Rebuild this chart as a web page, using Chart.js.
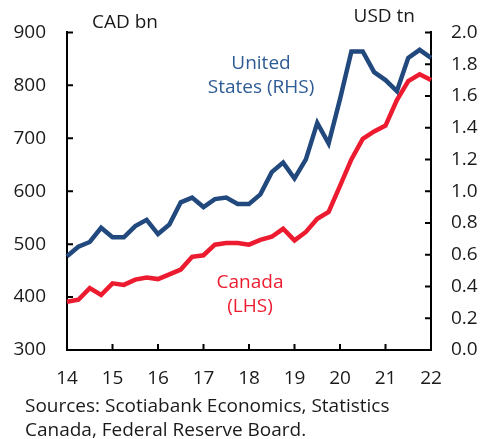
<!DOCTYPE html>
<html>
<head>
<meta charset="utf-8">
<script src="https://cdn.jsdelivr.net/npm/chart.js@4"></script>
<style>
  html, body { margin: 0; padding: 0; background: #fff; }
  #wrap { width: 480px; height: 439px; }
</style>
</head>
<body>
<div id="wrap"><canvas id="debtChart" width="480" height="439"></canvas></div>
<script>
const quarters = [
  '14Q1', '14Q2', '14Q3', '14Q4', '15Q1', '15Q2', '15Q3', '15Q4',
  '16Q1', '16Q2', '16Q3', '16Q4', '17Q1', '17Q2', '17Q3', '17Q4',
  '18Q1', '18Q2', '18Q3', '18Q4', '19Q1', '19Q2', '19Q3', '19Q4',
  '20Q1', '20Q2', '20Q3', '20Q4', '21Q1', '21Q2', '21Q3', '21Q4',
  '22Q1'
];
// Canada, CAD bn (left axis)
const canada = [391, 395, 417, 404, 426, 423, 433, 437, 434, 443, 452, 476, 479, 499, 502, 502,
  499, 508, 514, 529, 507, 523, 548, 561, 610, 660, 699, 713, 724, 772, 808, 821, 810];
// United States, USD tn (right axis)
const unitedStates = [0.59, 0.65, 0.68, 0.77, 0.71, 0.71, 0.78, 0.82, 0.73, 0.79, 0.93, 0.96, 0.90, 0.95, 0.96, 0.92,
  0.92, 0.98, 1.12, 1.18, 1.08, 1.20, 1.43, 1.30, 1.58, 1.88, 1.88, 1.75, 1.70, 1.63, 1.84, 1.89, 1.84];

const red = '#ed1b2f';
const navy = '#22497d';
const navyText = '#2d5b93';
const ink = '#1a1a1a';
const fontFamily = "'Open Sans', sans-serif";

// short ticks drawn on the inside of each axis
const innerTicks = {
  id: 'innerTicks',
  afterDraw(chart) {
    const { ctx, chartArea, scales } = chart;
    const len = 6;
    ctx.save();
    ctx.strokeStyle = '#000';
    ctx.lineWidth = 2;
    ctx.beginPath();
    scales.y.ticks.forEach(t => {
      const py = scales.y.getPixelForValue(t.value);
      ctx.moveTo(chartArea.left, py);
      ctx.lineTo(chartArea.left + len, py);
    });
    scales.y1.ticks.forEach(t => {
      const py = scales.y1.getPixelForValue(t.value);
      ctx.moveTo(chartArea.right, py);
      ctx.lineTo(chartArea.right - len, py);
    });
    quarters.forEach((q, i) => {
      if (!q.endsWith('Q1')) return;
      const px = scales.x.getPixelForValue(i);
      ctx.moveTo(px, chartArea.bottom);
      ctx.lineTo(px, chartArea.bottom - len);
    });
    ctx.stroke();
    ctx.restore();
  }
};

// axis units, series labels and source note
const notes = {
  id: 'notes',
  afterDraw(chart) {
    const ctx = chart.ctx;
    ctx.save();
    ctx.textBaseline = 'middle';
    ctx.font = '19px ' + fontFamily;
    ctx.fillStyle = ink;
    ctx.textAlign = 'left';
    ctx.fillText('CAD bn', 92, 23);
    ctx.textAlign = 'right';
    ctx.fillText('USD tn', 415, 17);

    ctx.textAlign = 'center';
    ctx.fillStyle = navyText;
    ctx.fillText('United', 261, 64);
    ctx.fillText('States (RHS)', 261, 88);
    ctx.fillStyle = red;
    ctx.fillText('Canada', 250, 283);
    ctx.fillText('(LHS)', 250, 307);

    ctx.textAlign = 'left';
    ctx.fillStyle = ink;
    ctx.fillText('Sources: Scotiabank Economics, Statistics', 25, 407);
    ctx.fillText('Canada, Federal Reserve Board.', 25, 431);
    ctx.restore();
  }
};

const tickFont = { family: fontFamily, size: 19 };

new Chart(document.getElementById('debtChart'), {
  type: 'line',
  data: {
    labels: quarters,
    datasets: [
      {
        label: 'United States (RHS)',
        data: unitedStates,
        yAxisID: 'y1',
        borderColor: navy,
        borderWidth: 4.5,
        pointRadius: 0,
        tension: 0
      },
      {
        label: 'Canada (LHS)',
        data: canada,
        yAxisID: 'y',
        borderColor: red,
        borderWidth: 4.5,
        pointRadius: 0,
        tension: 0
      }
    ]
  },
  options: {
    responsive: false,
    animation: false,
    layout: { padding: { top: 22, left: 0, right: 0, bottom: 0 } },
    plugins: {
      legend: { display: false },
      tooltip: { enabled: false }
    },
    scales: {
      x: {
        offset: false,
        grid: { display: false, drawTicks: false },
        border: { color: '#000', width: 2 },
        ticks: {
          autoSkip: false,
          maxRotation: 0,
          padding: 17,
          color: ink,
          font: tickFont,
          callback: (v, i) => quarters[i].endsWith('Q1') ? quarters[i].slice(0, 2) : ''
        },
        afterFit: s => { s.height = 89; }
      },
      y: {
        position: 'left',
        min: 300,
        max: 900,
        grid: { display: false, drawTicks: false },
        border: { color: '#000', width: 2 },
        ticks: { stepSize: 100, padding: 21, color: ink, font: tickFont },
        afterFit: s => { s.width = 67; }
      },
      y1: {
        position: 'right',
        min: 0,
        max: 2,
        grid: { display: false, drawTicks: false },
        border: { color: '#000', width: 2 },
        ticks: {
          stepSize: 0.2,
          padding: 20,
          color: ink,
          font: tickFont,
          callback: v => v.toFixed(1)
        },
        afterFit: s => { s.width = 49; }
      }
    }
  },
  plugins: [innerTicks, notes]
});
</script>
</body>
</html>
